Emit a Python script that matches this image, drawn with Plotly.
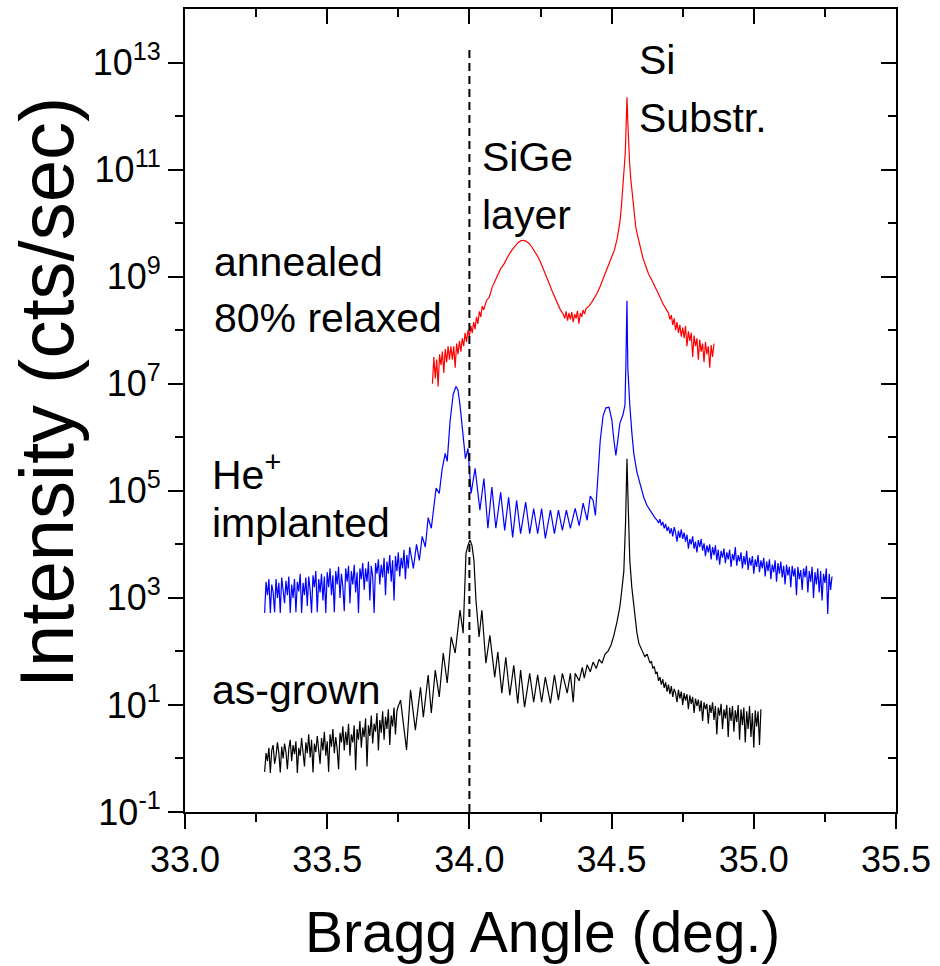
import plotly.graph_objects as go

# ---------------- axis ticks ----------------
X_TICKS = [33.0, 33.5, 34.0, 34.5, 35.0, 35.5]
X_TICK_LABELS = ["33.0", "33.5", "34.0", "34.5", "35.0", "35.5"]
X_MINOR = [33.25, 33.75, 34.25, 34.75, 35.25]
Y_TICKS = [1e-1, 1e1, 1e3, 1e5, 1e7, 1e9, 1e11, 1e13]
Y_TICK_LABELS = ["10<sup>-1</sup>", "10<sup>1</sup>", "10<sup>3</sup>", "10<sup>5</sup>",
                 "10<sup>7</sup>", "10<sup>9</sup>", "10<sup>11</sup>", "10<sup>13</sup>"]
Y_MINOR = [1e0, 1e2, 1e4, 1e6, 1e8, 1e10, 1e12]

# ---------------- data: (Bragg angle [deg], log10 intensity [cts/sec]) ----------------
AS_GROWN = [
    (33.280, -0.25), (33.285, 0.10), (33.290, -0.05), (33.295, 0.20), (33.300, -0.27), (33.305, 0.15),
    (33.310, 0.25), (33.315, -0.10), (33.320, 0.05), (33.325, 0.30), (33.330, 0.10), (33.335, -0.26),
    (33.340, 0.22), (33.345, 0.00), (33.350, 0.28), (33.355, 0.12), (33.360, -0.20), (33.365, 0.18),
    (33.370, 0.35), (33.375, -0.05), (33.380, 0.25), (33.385, 0.08), (33.390, 0.32), (33.395, -0.27),
    (33.400, 0.20), (33.405, 0.05), (33.410, 0.38), (33.415, 0.15), (33.420, -0.15), (33.425, 0.30),
    (33.430, 0.10), (33.435, 0.45), (33.440, 0.02), (33.445, 0.35), (33.450, -0.26), (33.455, 0.28),
    (33.460, 0.12), (33.465, 0.42), (33.470, 0.20), (33.475, -0.10), (33.480, 0.38), (33.485, 0.15),
    (33.490, 0.50), (33.495, 0.05), (33.500, 0.32), (33.505, -0.25), (33.510, 0.45), (33.515, 0.22),
    (33.520, 0.55), (33.525, 0.10), (33.530, 0.40), (33.535, 0.18), (33.540, -0.20), (33.545, 0.48),
    (33.550, 0.30), (33.555, 0.60), (33.560, 0.15), (33.565, 0.50), (33.570, 0.25), (33.575, 0.65),
    (33.580, 0.05), (33.585, 0.45), (33.590, 0.30), (33.595, 0.62), (33.600, -0.22), (33.605, 0.55),
    (33.610, 0.35), (33.615, 0.70), (33.620, 0.20), (33.625, 0.58), (33.630, 0.40), (33.635, 0.75),
    (33.640, -0.15), (33.645, 0.62), (33.650, 0.42), (33.655, 0.80), (33.660, 0.28), (33.665, 0.65),
    (33.670, 0.50), (33.675, 0.85), (33.680, 0.15), (33.685, 0.72), (33.690, 0.48), (33.695, 0.88),
    (33.700, 0.35), (33.705, 0.78), (33.710, 0.55), (33.715, 0.92), (33.720, 0.25), (33.725, 0.80),
    (33.730, 0.60), (33.735, 0.95), (33.740, 0.45), (33.745, 0.88), (33.750, 0.98),
    (33.758, 1.09), (33.779, 0.16), (33.793, 1.28), (33.810, 0.53), (33.828, 1.33), (33.838, 0.77),
    (33.855, 1.56), (33.866, 0.85), (33.880, 1.65), (33.894, 1.15), (33.908, 1.97), (33.922, 1.41),
    (33.936, 2.27), (33.950, 1.97), (33.967, 2.77), (33.978, 2.34), (33.988, 3.83), (33.995, 3.98),
    (34.002, 4.08), (34.009, 3.98), (34.016, 3.70), (34.023, 2.96), (34.034, 2.27), (34.044, 2.77),
    (34.058, 1.78), (34.072, 2.30), (34.089, 1.52), (34.100, 1.99), (34.114, 1.22), (34.128, 1.89),
    (34.142, 1.18), (34.156, 1.74), (34.170, 1.03), (34.180, 1.65), (34.194, 0.96), (34.212, 1.59),
    (34.226, 1.05), (34.240, 1.56), (34.254, 1.05), (34.267, 1.52), (34.285, 1.03), (34.299, 1.56),
    (34.313, 1.09), (34.327, 1.59), (34.344, 1.22), (34.355, 1.59), (34.365, 1.05), (34.372, 1.59),
    (34.386, 1.45), (34.397, 1.70), (34.404, 1.50), (34.414, 1.75), (34.425, 1.62), (34.435, 1.80),
    (34.446, 1.68), (34.456, 1.85), (34.466, 1.78), (34.477, 1.95), (34.487, 2.00), (34.498, 2.12),
    (34.508, 2.30), (34.519, 2.55), (34.529, 2.83), (34.536, 3.15), (34.543, 3.50), (34.549, 4.40),
    (34.554, 5.60), (34.559, 4.60), (34.564, 3.70), (34.571, 3.20), (34.578, 2.83), (34.589, 2.35),
    (34.596, 2.15), (34.606, 2.02), (34.617, 1.90), (34.625, 1.95),
    (34.630, 1.85), (34.635, 1.78), (34.640, 1.82), (34.645, 1.68), (34.650, 1.72), (34.655, 1.58),
    (34.660, 1.62), (34.665, 1.45), (34.670, 1.52), (34.675, 1.38), (34.680, 1.48), (34.685, 1.32),
    (34.690, 1.42), (34.695, 1.25), (34.700, 1.38), (34.705, 1.20), (34.710, 1.35), (34.715, 1.15),
    (34.720, 1.30), (34.725, 1.22), (34.730, 1.05), (34.735, 1.28), (34.740, 1.12), (34.745, 1.25),
    (34.750, 1.00), (34.755, 1.22), (34.760, 1.08), (34.765, 1.20), (34.770, 0.92), (34.775, 1.18),
    (34.780, 1.02), (34.785, 1.15), (34.790, 0.85), (34.795, 1.12), (34.800, 0.98), (34.805, 1.10),
    (34.810, 0.88), (34.815, 1.08), (34.820, 0.70), (34.825, 1.05), (34.830, 0.92), (34.835, 1.02),
    (34.840, 0.65), (34.845, 1.00), (34.850, 0.85), (34.855, 1.05), (34.860, 0.72), (34.865, 0.98),
    (34.870, 0.45), (34.875, 0.95), (34.880, 0.80), (34.885, 1.02), (34.890, 0.55), (34.895, 0.92),
    (34.900, 0.75), (34.905, 1.00), (34.910, 0.40), (34.915, 0.95), (34.920, 0.70), (34.925, 0.98),
    (34.930, 0.50), (34.935, 0.90), (34.940, 0.68), (34.945, 1.00), (34.950, 0.35), (34.955, 0.92),
    (34.960, 0.62), (34.965, 0.95), (34.970, 0.30), (34.975, 0.88), (34.980, 0.55), (34.985, 0.98),
    (34.990, 0.40), (34.995, 0.85), (35.000, 0.20), (35.005, 0.90), (35.010, 0.60), (35.015, 0.88),
    (35.020, 0.25), (35.025, 0.92),
]

HE_IMPLANTED = [
    (33.280, 2.72), (33.285, 3.30), (33.290, 3.05), (33.295, 3.35), (33.300, 2.72), (33.305, 3.25),
    (33.310, 3.10), (33.315, 2.73), (33.320, 3.35), (33.325, 3.00), (33.330, 3.28), (33.335, 2.72),
    (33.340, 3.38), (33.345, 3.15), (33.350, 2.90), (33.355, 3.32), (33.360, 3.05), (33.365, 3.40),
    (33.370, 2.72), (33.375, 3.25), (33.380, 3.00), (33.385, 3.35), (33.390, 2.73), (33.395, 3.30),
    (33.400, 3.12), (33.405, 3.45), (33.410, 2.72), (33.415, 3.28), (33.420, 3.05), (33.425, 3.38),
    (33.430, 2.85), (33.435, 3.40), (33.440, 3.15), (33.445, 2.72), (33.450, 3.42), (33.455, 3.20),
    (33.460, 3.50), (33.465, 2.73), (33.470, 3.35), (33.475, 3.10), (33.480, 3.45), (33.485, 2.95),
    (33.490, 3.40), (33.495, 2.72), (33.500, 3.48), (33.505, 3.20), (33.510, 3.55), (33.515, 3.05),
    (33.520, 3.42), (33.525, 2.73), (33.530, 3.50), (33.535, 3.25), (33.540, 3.58), (33.545, 3.00),
    (33.550, 3.45), (33.555, 3.20), (33.560, 2.75), (33.565, 3.55), (33.570, 3.30), (33.575, 3.60),
    (33.580, 2.90), (33.585, 3.50), (33.590, 3.25), (33.595, 3.62), (33.600, 3.10), (33.605, 3.48),
    (33.610, 2.72), (33.615, 3.55), (33.620, 3.35), (33.625, 3.65), (33.630, 3.15), (33.635, 3.55),
    (33.640, 3.30), (33.645, 3.68), (33.650, 2.95), (33.655, 3.60), (33.660, 3.40), (33.665, 2.72),
    (33.670, 3.65), (33.675, 3.45), (33.680, 3.72), (33.685, 3.25), (33.690, 3.62), (33.695, 3.38),
    (33.700, 3.75), (33.705, 3.05), (33.710, 3.68), (33.715, 3.45), (33.720, 3.80), (33.725, 3.30),
    (33.730, 3.70), (33.735, 2.95), (33.740, 3.78), (33.745, 3.50), (33.750, 3.85), (33.755, 3.40),
    (33.760, 3.75), (33.765, 3.55), (33.770, 3.90), (33.775, 3.35), (33.780, 3.80), (33.785, 3.55),
    (33.790, 3.95),
    (33.803, 3.55), (33.814, 4.00), (33.824, 3.70), (33.834, 4.15), (33.845, 3.95), (33.855, 4.50),
    (33.866, 4.30), (33.876, 4.75), (33.883, 5.05), (33.894, 4.95), (33.904, 5.40), (33.915, 5.70),
    (33.922, 5.55), (33.932, 6.30), (33.943, 6.80), (33.953, 6.95), (33.960, 6.88), (33.967, 6.60),
    (33.974, 6.20), (33.981, 5.75), (33.986, 5.60), (33.995, 5.79), (34.006, 4.95), (34.020, 5.42),
    (34.037, 4.64), (34.051, 5.23), (34.065, 4.30), (34.079, 5.07), (34.093, 4.30), (34.110, 4.97),
    (34.124, 4.26), (34.138, 4.88), (34.152, 4.13), (34.166, 4.82), (34.180, 4.20), (34.198, 4.79),
    (34.212, 4.20), (34.226, 4.67), (34.240, 4.20), (34.254, 4.67), (34.267, 4.11), (34.285, 4.64),
    (34.299, 4.20), (34.313, 4.64), (34.327, 4.26), (34.341, 4.64), (34.355, 4.30), (34.372, 4.67),
    (34.386, 4.35), (34.400, 4.77), (34.414, 4.45), (34.425, 4.90), (34.435, 4.82), (34.443, 4.54),
    (34.453, 5.40), (34.460, 5.94), (34.470, 6.40), (34.480, 6.55), (34.491, 6.56), (34.501, 6.32),
    (34.508, 5.95), (34.515, 5.66), (34.522, 5.95), (34.529, 6.26), (34.540, 6.42), (34.547, 6.60),
    (34.550, 7.30), (34.554, 8.55), (34.557, 7.30), (34.561, 6.85), (34.564, 6.60), (34.571, 6.10),
    (34.578, 5.70), (34.589, 5.35), (34.596, 5.20), (34.606, 5.00), (34.613, 4.88), (34.624, 4.73),
    (34.634, 4.64), (34.645, 4.55), (34.652, 4.50),
    (34.660, 4.45), (34.665, 4.40), (34.670, 4.47), (34.675, 4.35), (34.680, 4.42), (34.685, 4.30),
    (34.690, 4.38), (34.695, 4.25), (34.700, 4.33), (34.705, 4.20), (34.710, 4.30), (34.715, 4.15),
    (34.720, 4.32), (34.725, 4.22), (34.730, 4.05), (34.735, 4.25), (34.740, 4.12), (34.745, 4.28),
    (34.750, 4.10), (34.755, 4.22), (34.760, 4.05), (34.765, 4.18), (34.770, 3.92), (34.775, 4.10),
    (34.780, 4.00), (34.785, 4.15), (34.790, 3.92), (34.795, 4.05), (34.800, 3.85), (34.805, 4.08),
    (34.810, 3.95), (34.815, 4.10), (34.820, 3.88), (34.825, 4.02), (34.830, 3.78), (34.835, 3.98),
    (34.840, 3.85), (34.845, 4.00), (34.850, 3.72), (34.855, 3.95), (34.860, 3.80), (34.865, 3.98),
    (34.870, 3.70), (34.875, 3.90), (34.880, 3.62), (34.885, 3.88), (34.890, 3.75), (34.895, 3.92),
    (34.900, 3.65), (34.905, 3.85), (34.910, 3.72), (34.915, 3.90), (34.920, 3.58), (34.925, 3.82),
    (34.930, 3.70), (34.935, 3.95), (34.940, 3.60), (34.945, 3.80), (34.950, 3.68), (34.955, 3.85),
    (34.960, 3.55), (34.965, 3.78), (34.970, 3.62), (34.975, 3.88), (34.980, 3.52), (34.985, 3.75),
    (34.990, 3.60), (34.995, 3.78), (35.000, 3.45), (35.005, 3.72), (35.010, 3.58), (35.015, 3.80),
    (35.020, 3.48), (35.025, 3.70), (35.030, 3.55), (35.035, 3.75), (35.040, 3.40), (35.045, 3.68),
    (35.050, 3.50), (35.055, 3.72), (35.060, 3.35), (35.065, 3.62), (35.070, 3.48), (35.075, 3.70),
    (35.080, 3.30), (35.085, 3.65), (35.090, 3.45), (35.095, 3.68), (35.100, 3.38), (35.105, 3.60),
    (35.110, 3.25), (35.115, 3.62), (35.120, 3.42), (35.125, 3.58), (35.130, 3.20), (35.135, 3.60),
    (35.140, 3.40), (35.145, 3.55), (35.150, 3.05), (35.155, 3.58), (35.160, 3.35), (35.165, 3.52),
    (35.170, 3.15), (35.175, 3.55), (35.180, 3.38), (35.185, 3.60), (35.190, 3.10), (35.195, 3.50),
    (35.200, 3.30), (35.205, 3.58), (35.210, 3.00), (35.215, 3.48), (35.220, 3.25), (35.225, 3.55),
    (35.230, 3.10), (35.235, 3.50), (35.240, 2.95), (35.245, 3.45), (35.250, 3.28), (35.255, 3.55),
    (35.260, 2.70), (35.265, 3.45), (35.270, 3.15), (35.275, 3.40),
]

ANNEALED = [
    (33.870, 7.00), (33.875, 7.50), (33.880, 7.10), (33.885, 7.45), (33.890, 6.95), (33.895, 7.55),
    (33.900, 7.35), (33.905, 7.60), (33.910, 7.20), (33.915, 7.65), (33.920, 7.40), (33.925, 7.70),
    (33.930, 7.45), (33.935, 7.70), (33.940, 7.45), (33.945, 7.70), (33.950, 7.30), (33.955, 7.75),
    (33.960, 7.55), (33.965, 7.80), (33.970, 7.60), (33.975, 7.85), (33.980, 7.70), (33.985, 7.95),
    (33.990, 7.78), (33.995, 8.00), (34.000, 7.88), (34.005, 8.08), (34.010, 7.95), (34.015, 8.15),
    (34.020, 8.02), (34.025, 8.25), (34.030, 8.12), (34.035, 8.35), (34.040, 8.25), (34.045, 8.45),
    (34.050, 8.38), (34.060, 8.55), (34.070, 8.62), (34.080, 8.80), (34.090, 8.92), (34.100, 9.05),
    (34.110, 9.15), (34.120, 9.22), (34.130, 9.33), (34.140, 9.42), (34.150, 9.50), (34.160, 9.57),
    (34.170, 9.63), (34.180, 9.67), (34.190, 9.68), (34.200, 9.66), (34.210, 9.62), (34.220, 9.55),
    (34.230, 9.47), (34.240, 9.38), (34.250, 9.27), (34.260, 9.15), (34.270, 9.02), (34.280, 8.88),
    (34.290, 8.74), (34.300, 8.62), (34.310, 8.48), (34.320, 8.38), (34.330, 8.30), (34.335, 8.22),
    (34.340, 8.35), (34.345, 8.18), (34.350, 8.32), (34.355, 8.20), (34.360, 8.34), (34.365, 8.15),
    (34.370, 8.30), (34.375, 8.22), (34.380, 8.36), (34.385, 8.12), (34.390, 8.32), (34.395, 8.25),
    (34.400, 8.38), (34.405, 8.30), (34.410, 8.40), (34.420, 8.45), (34.430, 8.52), (34.440, 8.60),
    (34.450, 8.70), (34.460, 8.82), (34.470, 8.95), (34.480, 9.10), (34.490, 9.22), (34.500, 9.35),
    (34.510, 9.50), (34.520, 9.72), (34.530, 10.05), (34.535, 10.35), (34.540, 10.70), (34.545, 11.00),
    (34.548, 11.30), (34.551, 11.80), (34.554, 12.35), (34.557, 11.90), (34.560, 11.40), (34.563, 11.15),
    (34.567, 10.85), (34.572, 10.55), (34.578, 10.30), (34.585, 9.92), (34.590, 9.80), (34.600, 9.55),
    (34.610, 9.35), (34.620, 9.20), (34.630, 9.05), (34.640, 8.95), (34.650, 8.85), (34.660, 8.73),
    (34.670, 8.62), (34.680, 8.50), (34.690, 8.40), (34.700, 8.32), (34.705, 8.20), (34.710, 8.28),
    (34.715, 8.10), (34.720, 8.22), (34.725, 8.00), (34.730, 8.15), (34.735, 7.95), (34.740, 8.10),
    (34.745, 7.88), (34.750, 8.05), (34.755, 7.85), (34.760, 8.08), (34.765, 7.70), (34.770, 7.98),
    (34.775, 7.80), (34.780, 7.95), (34.785, 7.50), (34.790, 7.90), (34.795, 7.70), (34.800, 7.85),
    (34.805, 7.45), (34.810, 7.82), (34.815, 7.60), (34.820, 7.75), (34.825, 7.40), (34.830, 7.78),
    (34.835, 7.55), (34.840, 7.70), (34.845, 7.30), (34.850, 7.72), (34.855, 7.50), (34.860, 7.75),
]

SIGE_REF_ANGLE = 34.0          # dashed reference line
SIGE_REF_SPAN = [1e-1, 1.8e13]  # vertical extent of the dashed line

LABELS = [  # (text, angle, log10 intensity)
    ("annealed", 33.094, 9.27),
    ("80% relaxed", 33.094, 8.22),
    ("SiGe", 34.037, 11.23),
    ("layer", 34.037, 10.16),
    ("Si", 34.589, 13.04),
    ("Substr.", 34.589, 11.96),
    ("He<sup>+</sup>", 33.087, 5.35),
    ("implanted", 33.087, 4.40),
    ("as-grown", 33.087, 1.28),
]

FONT = "Liberation Sans, Arial, sans-serif"


def split(points):
    return [p[0] for p in points], [10 ** p[1] for p in points]


fig = go.Figure()

for pts, color in [(HE_IMPLANTED, "#0000FF"), (AS_GROWN, "#000000"), (ANNEALED, "#FF0000")]:
    xs, ys = split(pts)
    fig.add_trace(go.Scatter(x=xs, y=ys, mode="lines", line=dict(color=color, width=1.2),
                             showlegend=False, hoverinfo="skip"))

fig.add_trace(go.Scatter(x=[SIGE_REF_ANGLE, SIGE_REF_ANGLE], y=SIGE_REF_SPAN, mode="lines",
                         line=dict(color="black", width=2, dash="8px,5px"),
                         showlegend=False, hoverinfo="skip"))

# helper trace for mirrored (inside-tick) top/right axes
fig.add_trace(go.Scatter(x=[X_TICKS[0]], y=[Y_MINOR[0]], xaxis="x2", yaxis="y2", mode="markers",
                         marker=dict(opacity=0), showlegend=False, hoverinfo="skip"))

axis_common = dict(showgrid=False, zeroline=False, showline=True, linewidth=2, linecolor="black",
                   tickwidth=2, tickcolor="black")

fig.update_layout(
    width=940, height=966, autosize=False,
    margin=dict(l=185, r=39, t=9, b=154),
    paper_bgcolor="white", plot_bgcolor="white",
    font=dict(family=FONT, color="black"),
    xaxis=dict(range=[33.0, 35.5], tickmode="array", tickvals=X_TICKS, ticktext=X_TICK_LABELS,
               ticks="outside", ticklen=15, tickfont=dict(size=36, family=FONT),
               minor=dict(tickmode="array", tickvals=X_MINOR, ticks="outside", ticklen=8,
                          tickwidth=2, tickcolor="black", showgrid=False),
               **axis_common),
    yaxis=dict(type="log", range=[-1, 14], tickmode="array", tickvals=Y_TICKS, ticktext=Y_TICK_LABELS,
               ticks="outside", ticklen=15, tickfont=dict(size=36, family=FONT),
               minor=dict(tickmode="array", tickvals=Y_MINOR, ticks="outside", ticklen=8,
                          tickwidth=2, tickcolor="black", showgrid=False),
               **axis_common),
    xaxis2=dict(range=[33.0, 35.5], overlaying="x", anchor="y", side="top", tickmode="array",
                tickvals=X_TICKS, ticks="inside", ticklen=15, showticklabels=False,
                minor=dict(tickmode="array", tickvals=X_MINOR, ticks="inside", ticklen=8,
                           tickwidth=2, tickcolor="black", showgrid=False),
                **axis_common),
    yaxis2=dict(type="log", range=[-1, 14], overlaying="y", anchor="x", side="right", tickmode="array",
                tickvals=Y_TICKS, ticks="inside", ticklen=15, showticklabels=False,
                minor=dict(tickmode="array", tickvals=Y_MINOR, ticks="inside", ticklen=8,
                           tickwidth=2, tickcolor="black", showgrid=False),
                **axis_common),
)

for text, ax, ay in LABELS:
    fig.add_annotation(text=text, x=ax, y=ay, xref="x", yref="y", xanchor="left", yanchor="middle",
                       showarrow=False, font=dict(size=41, family=FONT, color="black"))

fig.add_annotation(text="Bragg Angle (deg.)", x=0.503, y=-0.150, xref="paper", yref="paper",
                   xanchor="center", yanchor="middle", showarrow=False,
                   font=dict(size=57, family=FONT, color="black"))
fig.add_annotation(text="Intensity (cts/sec)", x=-0.1955, y=0.523, xref="paper", yref="paper",
                   xanchor="center", yanchor="middle", textangle=-90, showarrow=False,
                   font=dict(size=76, family=FONT, color="black"))

fig.write_html("out.html")
